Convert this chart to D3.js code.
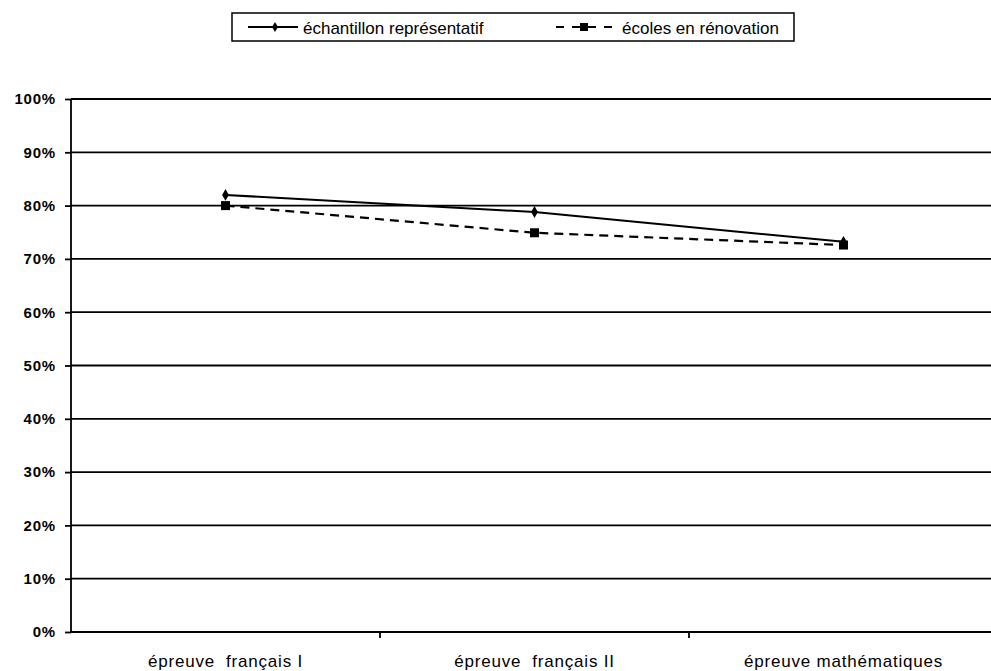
<!DOCTYPE html>
<html>
<head>
<meta charset="utf-8">
<script src="https://cdn.jsdelivr.net/npm/d3@7.9.0/dist/d3.min.js"></script>
<style>
  body { margin: 0; background: #fff; }
  svg text { font-family: "Liberation Sans", Arial, sans-serif; fill: #000; }
</style>
</head>
<body>
<svg id="chart"></svg>
<script>
// Data
const categories = ["épreuve  français I", "épreuve  français II", "épreuve mathématiques"];
const seriesNames = ["échantillon représentatif", "écoles en rénovation"];
const representatif = [0.82, 0.788, 0.732];
const renovation = [0.80, 0.749, 0.726];
const yTicks = [0, 0.1, 0.2, 0.3, 0.4, 0.5, 0.6, 0.7, 0.8, 0.9, 1.0];

const W = 991, H = 671;
const plotLeft = 71, plotRight = 991, plotTop = 99, plotBottom = 632;

const svg = d3.select("#chart")
    .attr("width", W)
    .attr("height", H);

const x = d3.scaleBand()
    .domain(categories)
    .range([plotLeft, 998]);

const y = d3.scaleLinear()
    .domain([0, 1])
    .range([plotBottom, plotTop]);

// Gridlines
svg.append("g")
    .selectAll("line")
    .data(yTicks)
    .enter()
    .append("line")
    .attr("x1", plotLeft)
    .attr("x2", plotRight)
    .attr("y1", d => y(d))
    .attr("y2", d => y(d))
    .attr("stroke", "#000")
    .attr("stroke-width", 1.8);

// Y axis
const yAxis = svg.append("g")
    .attr("transform", `translate(${plotLeft},0)`)
    .call(d3.axisLeft(y).tickValues(yTicks).tickFormat(d3.format(".0%")).tickSize(6).tickPadding(9));
yAxis.select(".domain").attr("stroke-width", 1.8).attr("d", `M0,${plotTop}V${plotBottom}`);
yAxis.selectAll(".tick line").attr("stroke-width", 1.8);
yAxis.selectAll("text")
    .style("font-size", "15px")
    .style("font-weight", "bold")
    .style("letter-spacing", "0.8px");

// X axis ticks at category boundaries
const boundaries = categories.slice(1).map(c => x(c));
svg.append("g")
    .selectAll("line")
    .data(boundaries)
    .enter()
    .append("line")
    .attr("x1", d => d)
    .attr("x2", d => d)
    .attr("y1", plotBottom)
    .attr("y2", plotBottom + 6)
    .attr("stroke", "#000")
    .attr("stroke-width", 1.8);

// X labels
svg.append("g")
    .selectAll("text")
    .data(categories)
    .enter()
    .append("text")
    .attr("x", d => x(d) + x.bandwidth() / 2)
    .attr("y", 667)
    .attr("text-anchor", "middle")
    .style("font-size", "17px")
    .style("letter-spacing", "0.8px")
    .style("white-space", "pre")
    .text(d => d);

const line = d3.line()
    .x((d, i) => x(categories[i]) + x.bandwidth() / 2)
    .y(d => y(d));

// Series 1: solid with diamonds
svg.append("path")
    .datum(representatif)
    .attr("d", line)
    .attr("fill", "none")
    .attr("stroke", "#000")
    .attr("stroke-width", 2);

svg.append("g")
    .selectAll("path")
    .data(representatif)
    .enter()
    .append("path")
    .attr("transform", (d, i) => `translate(${x(categories[i]) + x.bandwidth() / 2},${y(d)})`)
    .attr("d", d3.symbol(d3.symbolDiamond, 40))
    .attr("fill", "#000");

// Series 2: dashed with squares
svg.append("path")
    .datum(renovation)
    .attr("d", line)
    .attr("fill", "none")
    .attr("stroke", "#000")
    .attr("stroke-width", 2.2)
    .attr("stroke-dasharray", "9,6");

svg.append("g")
    .selectAll("rect")
    .data(renovation)
    .enter()
    .append("rect")
    .attr("x", (d, i) => x(categories[i]) + x.bandwidth() / 2 - 4.5)
    .attr("y", d => y(d) - 4.5)
    .attr("width", 9)
    .attr("height", 9)
    .attr("fill", "#000");

// Legend
const legend = svg.append("g");
legend.append("rect")
    .attr("x", 232)
    .attr("y", 13)
    .attr("width", 562)
    .attr("height", 28)
    .attr("fill", "#fff")
    .attr("stroke", "#000")
    .attr("stroke-width", 1.5);

legend.append("line")
    .attr("x1", 248).attr("x2", 298)
    .attr("y1", 27).attr("y2", 27)
    .attr("stroke", "#000").attr("stroke-width", 2);
legend.append("path")
    .attr("transform", "translate(275,27)")
    .attr("d", d3.symbol(d3.symbolDiamond, 30))
    .attr("fill", "#000");
legend.append("text")
    .attr("x", 303).attr("y", 34)
    .style("font-size", "17px")
    .text(seriesNames[0]);

legend.append("line")
    .attr("x1", 556).attr("x2", 614)
    .attr("y1", 27).attr("y2", 27)
    .attr("stroke", "#000").attr("stroke-width", 2.2)
    .attr("stroke-dasharray", "8,8");
legend.append("rect")
    .attr("x", 580).attr("y", 23)
    .attr("width", 8).attr("height", 8)
    .attr("fill", "#000");
legend.append("text")
    .attr("x", 622).attr("y", 34)
    .style("font-size", "17px")
    .text(seriesNames[1]);
</script>
</body>
</html>
